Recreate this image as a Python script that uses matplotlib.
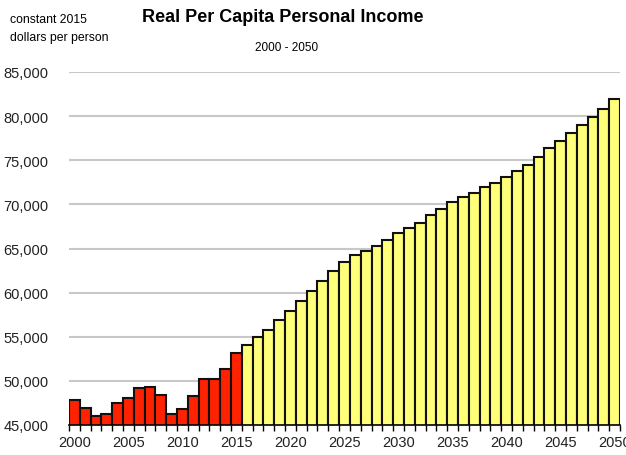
import numpy as np
import matplotlib.pyplot as plt
from matplotlib.ticker import FuncFormatter

years = list(range(2000, 2051))
actual = [47800, 46900, 46000, 46300, 47450, 48050, 49200, 49250, 48400, 46200,
          46800, 48300, 50250, 50200, 51300, 53200]
forecast = [54050, 55000, 55800, 56900, 57950, 59100, 60150, 61300, 62450, 63450,
            64300, 64750, 65300, 66000, 66700, 67350, 67900, 68750, 69500, 70250,
            70800, 71300, 71950, 72450, 73100, 73800, 74500, 75400, 76400, 77200,
            78050, 78950, 79850, 80850, 81900]

plt.rcParams['font.family'] = ['Liberation Sans', 'DejaVu Sans']

fig = plt.figure(figsize=(6.26, 4.56), dpi=100)
ax = fig.add_axes([69 / 626, 30 / 456, 551 / 626, 353 / 456])

ax.bar(years[:16], actual, width=1.0, color='#ff2200', edgecolor='#111111', linewidth=1.5, zorder=3)
ax.bar(years[16:], forecast, width=1.0, color='#ffff7a', edgecolor='#111111', linewidth=1.5, zorder=3)

ax.set_ylim(45000, 85000)
ax.set_xlim(1999.5, 2050.5)
ax.set_yticks(range(45000, 85001, 5000))
ax.yaxis.set_major_formatter(FuncFormatter(lambda v, p: f"{int(v):,}"))
ax.grid(axis='y', color='#c8c8c8', linewidth=1.5, zorder=0)

ax.set_xticks(range(2000, 2051, 5))
ax.set_xticks(np.arange(1999.5, 2051, 1), minor=True)
ax.tick_params(axis='x', which='major', length=0, labelsize=10.5, pad=7)
ax.tick_params(axis='x', which='minor', length=4, width=1, color='black')
ax.tick_params(axis='y', length=0, labelsize=10.5, pad=15)
for lab in ax.get_xticklabels() + ax.get_yticklabels():
    lab.set_color('#222222')

for s in ['top', 'right', 'left']:
    ax.spines[s].set_visible(False)
ax.spines['bottom'].set_linewidth(1.2)
ax.spines['bottom'].set_zorder(4)

fig.text(283 / 626, 1 - 18 / 456, "Real Per Capita Personal Income", ha='center', va='center',
         fontsize=13, fontweight='bold')
fig.text(287 / 626, 1 - 48 / 456, "2000 - 2050", ha='center', va='center', fontsize=8.5)
fig.text(10 / 626, 1 - 29 / 456, "constant 2015\ndollars per person", ha='left', va='center',
         fontsize=8.8, linespacing=1.6)

fig.savefig("out.png", dpi=100)
plt.close(fig)
